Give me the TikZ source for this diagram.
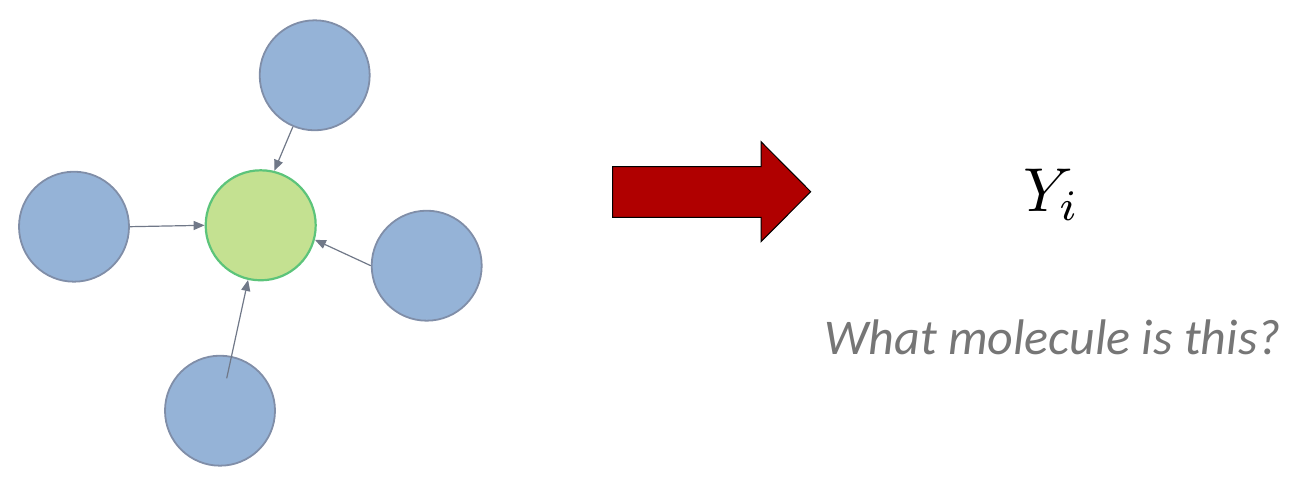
\documentclass[tikz,border=0pt]{standalone}
\usepackage{fontspec}
\newfontfamily\calib{Carlito}
\usetikzlibrary{arrows.meta}
\definecolor{bluefill}{RGB}{149,179,215}
\definecolor{blueedge}{RGB}{128,142,168}
\definecolor{greenfill}{RGB}{196,225,145}
\definecolor{greenedge}{RGB}{92,196,122}
\definecolor{linkgray}{RGB}{112,120,136}
\definecolor{bigred}{RGB}{176,0,0}
\definecolor{textgray}{RGB}{118,118,118}
\tikzset{
  atom/.style={circle, minimum size=110pt, inner sep=0pt, fill=bluefill, draw=blueedge, line width=1.8pt},
  center atom/.style={atom, fill=greenfill, draw=greenedge, line width=2.2pt},
  link/.style={draw=linkgray, line width=1.2pt, -{Triangle[length=11pt,width=9pt]}},
}
\begin{document}
\begin{tikzpicture}[x=1pt,y=1pt]
\useasboundingbox (0,0) rectangle (1299,482);
\node[atom] (t) at (314.7,406.7) {};
\node[atom] (l) at (74,255.3) {};
\node[center atom] (c) at (260.7,256.7) {};
\node[atom] (r) at (426.7,216.3) {};
\node[atom] (b) at (220,71.3) {};
\coordinate (bs) at (226.7,103.7);
\draw[link] (t.-113) -- (c.76);
\draw[link] (l.east) -- (c.west);
\draw[link] (r.180) -- (c.-15);
\draw[link] (bs) -- (c.-103);
% big red arrow
\draw[fill=bigred, draw=black, line width=1pt]
  (612.7,315.3) -- (761,315.3) -- (761,340.3) -- (810.7,290.3) -- (761,240.3) -- (761,264.7) -- (612.7,264.7) -- cycle;
\node[anchor=base west, inner sep=0pt, scale=6.2] (y) at (1022,270.3) {$Y_i$};
\node[anchor=base, inner sep=0pt, text=textgray] (q) at (1052.5,127) {\calib\itshape\fontsize{50}{50}\selectfont What molecule is this?};
\end{tikzpicture}
\end{document}
